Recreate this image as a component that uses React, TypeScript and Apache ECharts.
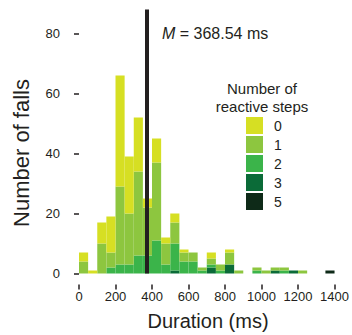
import React, { useEffect, useRef } from "react";
import * as echarts from "echarts";

// 50 ms bins, start of each bin (ms)
const binStarts = [
  0, 50, 100, 150, 200, 250, 300, 350, 400, 450, 500, 550, 600, 650,
  700, 750, 800, 850, 900, 950, 1000, 1050, 1100, 1150, 1200, 1250, 1300, 1350,
];
// Falls per bin by number of reactive steps
const steps0 = [3, 1, 7, 12, 37, 19, 18, 3, 8, 2, 3, 1, 0, 0, 2, 0, 1, 0, 0, 0, 0, 0, 0, 0, 0, 0, 0, 0];
const steps1 = [4, 0, 10, 5, 26, 17, 28, 16, 26, 7, 7, 3, 3, 1, 2, 2, 4, 1, 0, 1, 1, 1, 1, 0, 1, 0, 0, 0];
const steps2 = [0, 0, 0, 2, 3, 3, 6, 6, 11, 3, 9, 4, 4, 1, 1, 1, 0, 0, 0, 1, 0, 0, 1, 0, 0, 0, 0, 0];
const steps3 = [0, 0, 0, 0, 0, 0, 0, 0, 0, 0, 1, 0, 0, 0, 2, 0, 3, 0, 0, 0, 0, 1, 0, 1, 0, 0, 0, 0];
const steps5 = [0, 0, 0, 0, 0, 0, 0, 0, 0, 0, 0, 0, 0, 0, 0, 0, 0, 0, 0, 0, 0, 0, 0, 0, 0, 0, 0, 1];

const meanDuration = 368.54;
const yTickValues = [0, 20, 40, 60, 80];
const legendOrder = ["0", "1", "2", "3", "5"];

const FONT = "Liberation Sans, Arial, Helvetica, sans-serif";
const INK = "#231f20";

export default function App() {
  const ref = useRef<HTMLDivElement>(null);

  useEffect(() => {
    const chart = echarts.init(ref.current!, null, { renderer: "svg" });

    const stackDefs = [
      { name: "5", data: steps5, color: "#0e2a18" },
      { name: "3", data: steps3, color: "#0b6b38" },
      { name: "2", data: steps2, color: "#3bb44a" },
      { name: "1", data: steps1, color: "#8dc63f" },
      { name: "0", data: steps0, color: "#d6df23" },
    ];

    const centered = {
      fontFamily: FONT,
      fill: INK,
      align: "center",
      verticalAlign: "middle",
      textAlign: "center",
      textVerticalAlign: "middle",
    };

    const option: any = {
      animation: false,
      textStyle: { fontFamily: FONT },
      grid: { left: 79, right: 15, top: 9.5, bottom: 61.5 },
      xAxis: [
        {
          type: "category",
          data: binStarts.map(String),
          boundaryGap: true,
          show: false,
        },
        {
          type: "value",
          min: 0,
          max: 1400,
          interval: 200,
          position: "bottom",
          offset: 11,
          axisLine: { show: false },
          axisTick: { show: true, length: 5, lineStyle: { color: INK, width: 1.5 } },
          axisLabel: {
            margin: 5,
            fontSize: 13,
            color: INK,
            fontFamily: FONT,
            formatter: (v: number) => String(v),
          },
          splitLine: { show: false },
        },
      ],
      yAxis: {
        type: "value",
        min: 0,
        max: 88,
        interval: 20,
        offset: 12,
        axisLine: { show: false },
        axisTick: {
          show: true,
          length: 5,
          customValues: yTickValues,
          lineStyle: { color: INK, width: 1.5 },
        },
        axisLabel: {
          margin: 7,
          fontSize: 13,
          color: INK,
          fontFamily: FONT,
          customValues: yTickValues,
        },
        splitLine: { show: false },
      },
      legend: {
        data: legendOrder,
        orient: "vertical",
        left: 246,
        top: 117,
        itemWidth: 17,
        itemHeight: 17,
        itemGap: 2,
        icon: "rect",
        padding: 0,
        textStyle: { fontSize: 14, color: INK, fontFamily: FONT, padding: [0, 0, 0, 6] },
        selectedMode: false,
      },
      series: [
        ...stackDefs.map((s) => ({
          name: s.name,
          type: "bar",
          stack: "falls",
          xAxisIndex: 0,
          yAxisIndex: 0,
          data: s.data,
          barCategoryGap: "0%",
          itemStyle: { color: s.color, borderWidth: 0 },
          emphasis: { disabled: true },
        })),
        {
          type: "line",
          xAxisIndex: 1,
          yAxisIndex: 0,
          data: [[meanDuration, 0]],
          showSymbol: false,
          symbol: "none",
          lineStyle: { opacity: 0 },
          markLine: {
            silent: true,
            symbol: ["none", "none"],
            label: { show: false },
            lineStyle: { color: INK, width: 4, type: "solid" },
            data: [{ xAxis: meanDuration }],
          },
        },
      ],
      graphic: [
        {
          type: "text",
          x: 21,
          y: 153,
          rotation: Math.PI / 2,
          style: { ...centered, text: "Number of falls", fontSize: 22 },
        },
        {
          type: "text",
          x: 208,
          y: 321,
          style: { ...centered, text: "Duration (ms)", fontSize: 20 },
        },
        {
          type: "text",
          x: 262,
          y: 88,
          style: { ...centered, text: "Number of", fontSize: 15 },
        },
        {
          type: "text",
          x: 262,
          y: 106,
          style: { ...centered, text: "reactive steps", fontSize: 15 },
        },
        {
          type: "text",
          x: 162,
          y: 33,
          style: {
            text: "{i|M} = " + meanDuration.toFixed(2) + " ms",
            fontSize: 16,
            fontFamily: FONT,
            fill: INK,
            align: "left",
            verticalAlign: "middle",
            textAlign: "left",
            textVerticalAlign: "middle",
            rich: {
              i: { fontStyle: "italic", fontSize: 16, fontFamily: FONT, fill: INK },
            },
          },
        },
      ],
    };

    chart.setOption(option);
    return () => chart.dispose();
  }, []);

  return (
    <div
      ref={ref}
      style={{ position: "absolute", left: 0, top: 0, width: 352, height: 335 }}
    />
  );
}
